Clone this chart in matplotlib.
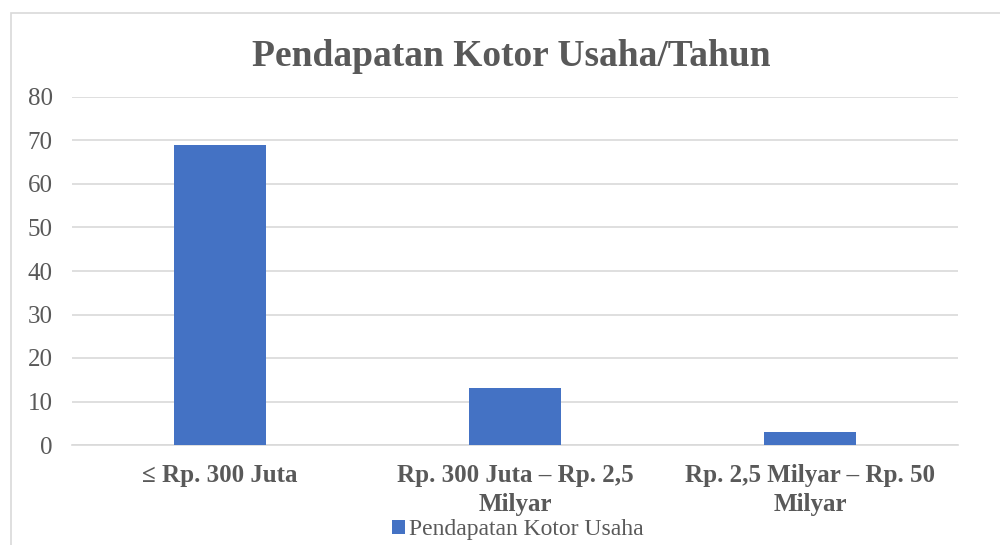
import matplotlib
matplotlib.use("Agg")
import matplotlib.pyplot as plt
from matplotlib.patches import Rectangle

categories = ["\u2264 Rp. 300 Juta", "Rp. 300 Juta \u2013 Rp. 2,5\nMilyar", "Rp. 2,5 Milyar \u2013 Rp. 50\nMilyar"]
values = [69, 13, 3]
series_name = "Pendapatan Kotor Usaha"
title = "Pendapatan Kotor Usaha/Tahun"
yticks = [0, 10, 20, 30, 40, 50, 60, 70, 80]

plt.rcParams['font.family'] = ['Liberation Serif', 'DejaVu Serif']
W, H = 1000, 545
fig = plt.figure(figsize=(W / 100, H / 100), dpi=100)
fig.patch.set_facecolor('white')

# chart border
fig.add_artist(Rectangle((11 / W, -0.05), 1.2, 1 - 13 / H + 0.05, transform=fig.transFigure,
                         fill=False, edgecolor='#d9d9d9', linewidth=1.2))

ax = fig.add_axes([72 / W, 1 - 445 / H, (958 - 72) / W, (445 - 97) / H])
x = list(range(len(categories)))
ax.bar(x, values, width=0.312, color='#4472c4', label=series_name, zorder=3)
ax.set_xlim(-0.5, 2.5)
ax.set_ylim(0, 80)
ax.set_yticks(yticks)
ax.set_yticklabels([str(v) for v in yticks], fontsize=18, color='#595959')
ax.set_xticks(x)
ax.set_xticklabels(categories, fontsize=18, fontweight='bold', color='#595959', linespacing=1.3)
ax.tick_params(axis='both', length=0)
ax.tick_params(axis='y', pad=14)
ax.tick_params(axis='x', pad=14)
ax.grid(axis='y', color='#d9d9d9', linewidth=1.2, zorder=0)
for s in ['top', 'right', 'left']:
    ax.spines[s].set_visible(False)
ax.spines['bottom'].set_color('#d9d9d9')
ax.spines['bottom'].set_linewidth(1.2)

fig.text(511 / W, 1 - 57 / H, title, ha='center', va='center', fontsize=27,
         fontweight='bold', color='#595959')

leg = fig.legend(loc='center', bbox_to_anchor=(518 / W, 1 - 530 / H), frameon=False,
                 fontsize=17, handlelength=0.55, handleheight=0.55, handletextpad=0.15,
                 labelcolor='#595959', borderpad=0.1)

fig.savefig('out.png', dpi=100, facecolor='white')
